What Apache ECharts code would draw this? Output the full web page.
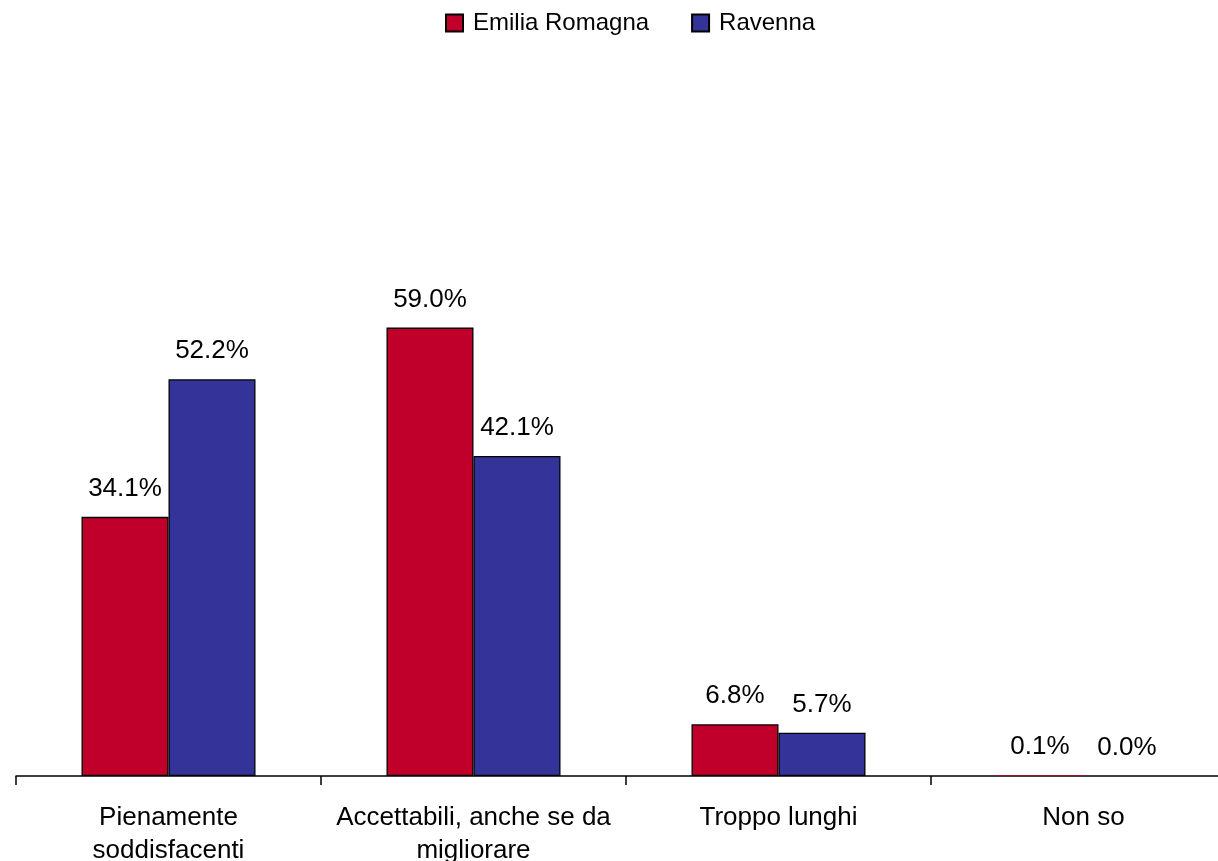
<!DOCTYPE html>
<html>
<head>
<meta charset="utf-8">
<script src="https://cdn.jsdelivr.net/npm/echarts@6/dist/echarts.min.js"></script>
<style>html,body{margin:0;padding:0;background:#fff;}#c{width:1218px;height:861px;}</style>
</head>
<body>
<div id="c"></div>
<script>
const categories = ['Pienamente\nsoddisfacenti', 'Accettabili, anche se da\nmigliorare', 'Troppo lunghi', 'Non so'];
const emiliaRomagna = [34.1, 59.0, 6.8, 0.1];
const ravenna = [52.2, 42.1, 5.7, 0.0];
const seriesNames = ['Emilia Romagna', 'Ravenna'];

const chart = echarts.init(document.getElementById('c'));
const font = 'Liberation Sans, Arial, sans-serif';
const lbl = {
  show: true, position: 'top', distance: 15,
  color: '#000', fontSize: 26, fontFamily: font,
  formatter: p => p.value.toFixed(1) + '%'
};
const toData = arr => arr.map(v => ({ value: v, itemStyle: { borderWidth: v < 0.5 ? 0 : 1.3 } }));
chart.setOption({
  animation: false,
  backgroundColor: '#fff',
  legend: {
    top: 6, left: 440,
    itemWidth: 17, itemHeight: 17, itemGap: 42,
    icon: 'rect',
    textStyle: { color: '#000', fontSize: 24, fontFamily: font, padding: [0, 0, 0, 5] },
    data: seriesNames
  },
  grid: { left: 16, top: 16, width: 1220, height: 760, containLabel: false, outerBoundsMode: 'none' },
  xAxis: {
    type: 'category', data: categories,
    axisLine: { lineStyle: { color: '#000', width: 1.5 } },
    axisTick: { show: true, length: 9, lineStyle: { color: '#000', width: 1.5 } },
    axisLabel: { color: '#000', fontSize: 26, fontFamily: font, margin: 25, lineHeight: 33, interval: 0 }
  },
  yAxis: { type: 'value', min: 0, max: 100, show: false, splitLine: { show: false } },
  series: [
    { name: seriesNames[0], type: 'bar', data: toData(emiliaRomagna), barWidth: 87, barGap: '0%',
      itemStyle: { color: '#C0002A', borderColor: '#000', borderWidth: 1.3 }, label: lbl },
    { name: seriesNames[1], type: 'bar', data: toData(ravenna), barWidth: 87, barGap: '0%',
      itemStyle: { color: '#333399', borderColor: '#000', borderWidth: 1.3 }, label: lbl }
  ]
});
</script>
</body>
</html>
